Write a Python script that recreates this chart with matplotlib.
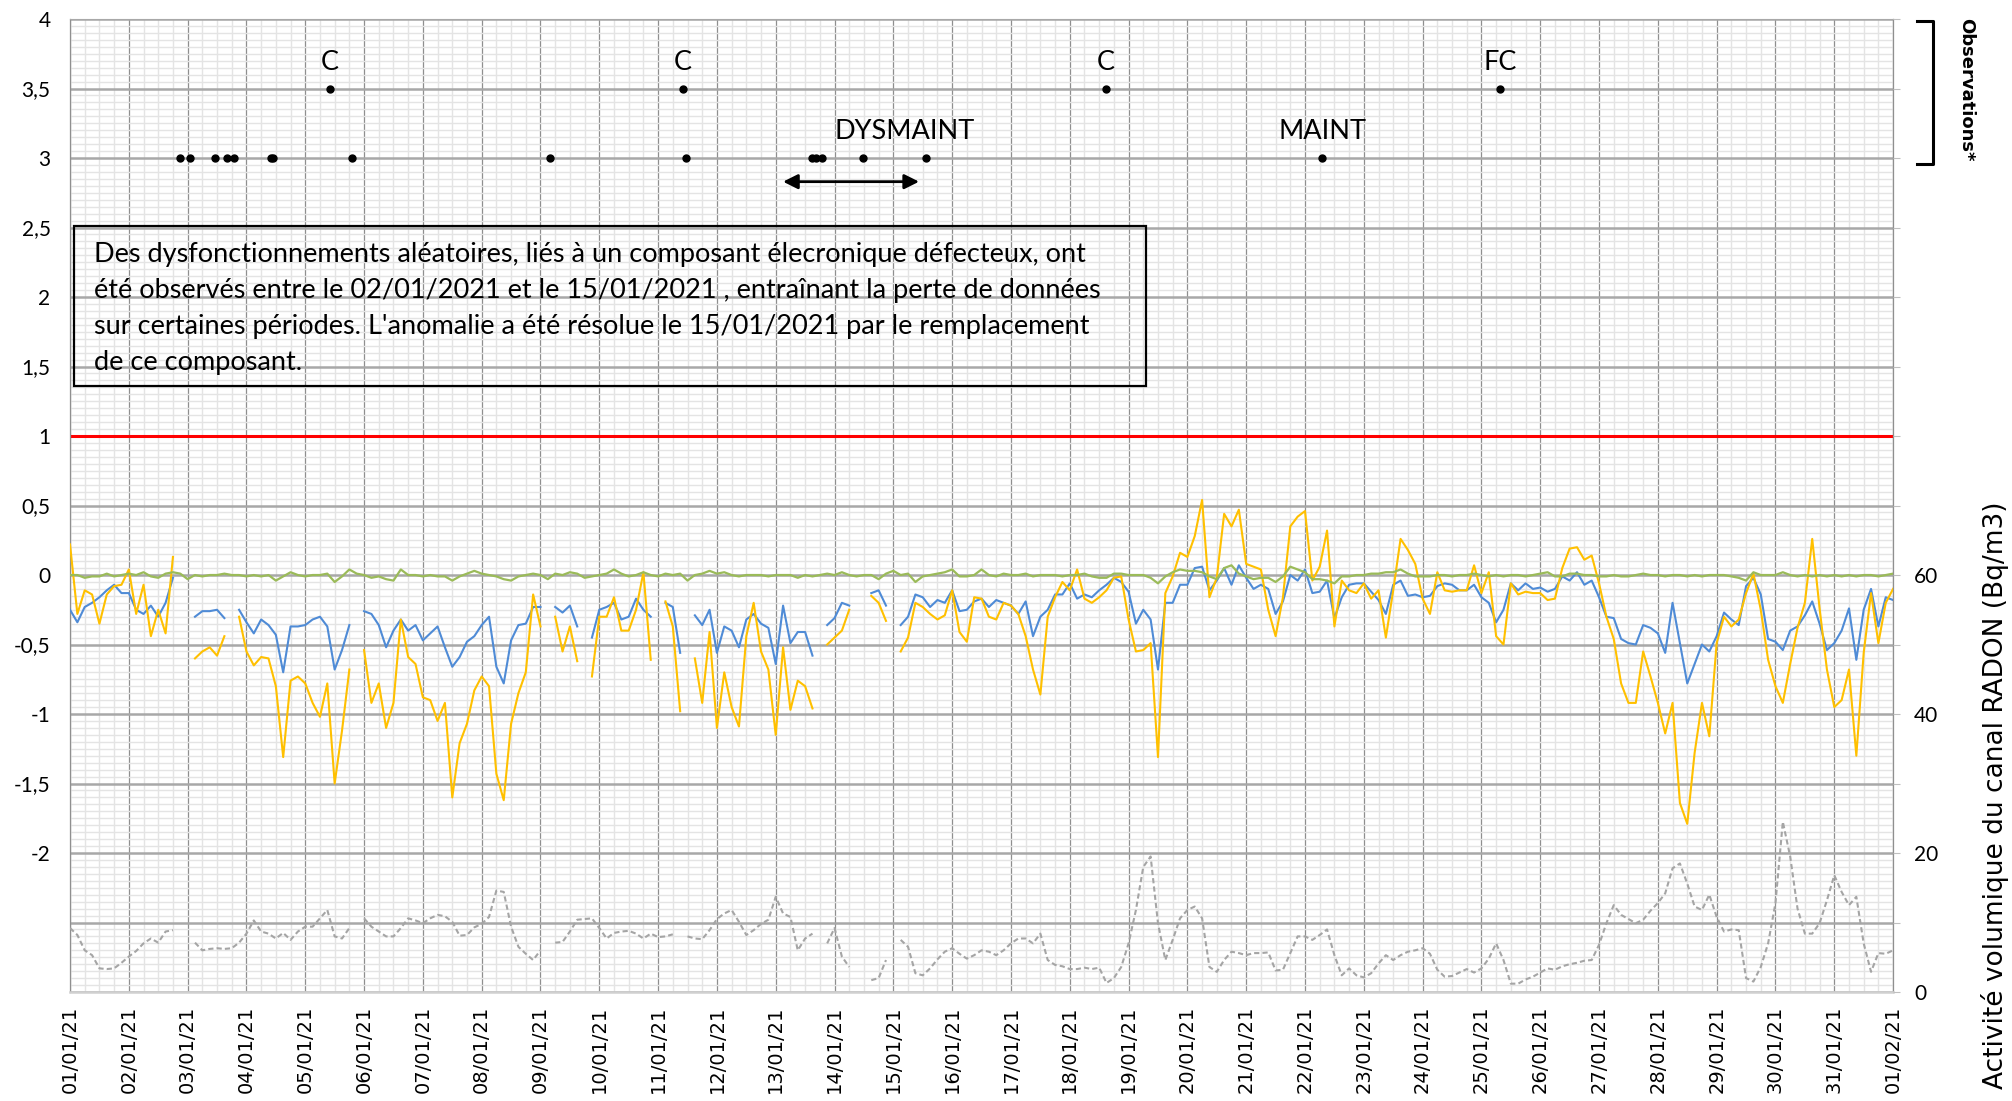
import numpy as np
import pandas as pd
import matplotlib
matplotlib.use('Agg')
import matplotlib.pyplot as plt
import matplotlib.dates as mdates
from matplotlib.ticker import MultipleLocator, FuncFormatter
from matplotlib import font_manager
from matplotlib.patches import Rectangle
from matplotlib.lines import Line2D

nan = np.nan

# 3-hourly samples, 01/01/2021 00:00 -> 01/02/2021 00:00
times = pd.date_range('2021-01-01', '2021-02-01', freq='3h')

blue = [
    -0.25, -0.34, -0.23, -0.20, -0.16, -0.11, -0.07, -0.13,
    -0.13, -0.25, -0.28, -0.22, -0.30, -0.20, -0.02, nan,
    nan, -0.30, -0.26, -0.26, -0.25, -0.31, nan, -0.25,
    -0.34, -0.42, -0.32, -0.36, -0.43, -0.70, -0.37, -0.37,
    -0.36, -0.32, -0.30, -0.37, -0.68, -0.54, -0.36, nan,
    -0.26, -0.28, -0.36, -0.52, -0.40, -0.32, -0.40, -0.36,
    -0.47, -0.42, -0.37, -0.52, -0.66, -0.59, -0.48, -0.44,
    -0.36, -0.30, -0.66, -0.78, -0.47, -0.36, -0.35, -0.23,
    -0.23, nan, -0.23, -0.27, -0.22, -0.37, nan, -0.45,
    -0.25, -0.23, -0.20, -0.32, -0.30, -0.17, -0.25, -0.30,
    nan, -0.20, -0.23, -0.56, nan, -0.29, -0.36, -0.25,
    -0.56, -0.37, -0.40, -0.52, -0.32, -0.28, -0.35, -0.38,
    -0.64, -0.22, -0.49, -0.41, -0.41, -0.58, nan, -0.36,
    -0.31, -0.20, -0.22, nan, nan, -0.13, -0.11, -0.22,
    nan, -0.36, -0.30, -0.14, -0.16, -0.23, -0.18, -0.20,
    -0.11, -0.26, -0.25, -0.19, -0.17, -0.23, -0.18, -0.20,
    -0.22, -0.28, -0.19, -0.44, -0.30, -0.25, -0.14, -0.14,
    -0.06, -0.17, -0.14, -0.16, -0.11, -0.07, -0.02, -0.05,
    -0.12, -0.35, -0.25, -0.32, -0.68, -0.20, -0.20, -0.07,
    -0.07, 0.05, 0.06, -0.11, -0.04, 0.05, -0.07, 0.07,
    -0.02, -0.10, -0.07, -0.10, -0.28, -0.19, 0.00, -0.04,
    0.04, -0.13, -0.12, -0.04, -0.31, -0.16, -0.07, -0.06,
    -0.06, -0.12, -0.18, -0.28, -0.07, -0.04, -0.15, -0.14,
    -0.16, -0.15, -0.08, -0.06, -0.07, -0.11, -0.11, -0.07,
    -0.16, -0.20, -0.34, -0.25, -0.06, -0.11, -0.06, -0.10,
    -0.09, -0.12, -0.10, -0.01, -0.04, 0.02, -0.07, -0.04,
    -0.16, -0.30, -0.31, -0.46, -0.49, -0.50, -0.36, -0.38,
    -0.42, -0.56, -0.20, -0.49, -0.78, -0.64, -0.50, -0.55,
    -0.44, -0.27, -0.32, -0.36, -0.08, -0.02, -0.14, -0.46,
    -0.48, -0.54, -0.40, -0.37, -0.29, -0.19, -0.35, -0.54,
    -0.49, -0.40, -0.24, -0.61, -0.25, -0.10, -0.37, -0.16,
    -0.18]

yellow = [
    0.22, -0.28, -0.11, -0.14, -0.35, -0.14, -0.08, -0.07,
    0.04, -0.28, -0.07, -0.44, -0.25, -0.42, 0.13, nan,
    nan, -0.60, -0.55, -0.52, -0.58, -0.44, nan, -0.30,
    -0.55, -0.65, -0.59, -0.60, -0.80, -1.31, -0.76, -0.73,
    -0.78, -0.92, -1.02, -0.78, -1.50, -1.12, -0.68, nan,
    -0.54, -0.92, -0.78, -1.10, -0.92, -0.32, -0.59, -0.64,
    -0.88, -0.90, -1.05, -0.92, -1.60, -1.21, -1.07, -0.83,
    -0.73, -0.80, -1.43, -1.62, -1.07, -0.85, -0.70, -0.14,
    -0.37, nan, -0.30, -0.55, -0.37, -0.62, nan, -0.73,
    -0.30, -0.30, -0.16, -0.40, -0.40, -0.25, 0.02, -0.61,
    nan, -0.19, -0.37, -0.98, nan, -0.60, -0.92, -0.41,
    -1.10, -0.70, -0.95, -1.09, -0.44, -0.20, -0.55, -0.68,
    -1.15, -0.52, -0.97, -0.76, -0.80, -0.96, nan, -0.50,
    -0.45, -0.40, -0.25, nan, nan, -0.15, -0.20, -0.33,
    nan, -0.55, -0.45, -0.20, -0.23, -0.28, -0.32, -0.29,
    -0.11, -0.41, -0.48, -0.16, -0.17, -0.30, -0.32, -0.20,
    -0.22, -0.28, -0.44, -0.68, -0.86, -0.30, -0.16, -0.05,
    -0.11, 0.04, -0.17, -0.20, -0.16, -0.11, -0.02, -0.01,
    -0.32, -0.55, -0.54, -0.49, -1.31, -0.13, -0.01, 0.16,
    0.13, 0.28, 0.54, -0.16, -0.02, 0.44, 0.35, 0.47,
    0.08, 0.06, 0.04, -0.25, -0.44, -0.16, 0.35, 0.42,
    0.46, -0.04, 0.06, 0.32, -0.37, -0.04, -0.11, -0.13,
    -0.06, -0.17, -0.11, -0.45, -0.11, 0.26, 0.18, 0.08,
    -0.17, -0.28, 0.02, -0.11, -0.12, -0.11, -0.11, 0.07,
    -0.13, 0.02, -0.44, -0.50, -0.06, -0.14, -0.12, -0.13,
    -0.13, -0.18, -0.17, 0.05, 0.19, 0.20, 0.11, 0.14,
    -0.06, -0.30, -0.46, -0.78, -0.92, -0.92, -0.55, -0.73,
    -0.92, -1.14, -0.92, -1.64, -1.79, -1.28, -0.92, -1.16,
    -0.49, -0.30, -0.37, -0.32, -0.13, 0.01, -0.25, -0.61,
    -0.80, -0.92, -0.64, -0.38, -0.20, 0.26, -0.24, -0.68,
    -0.95, -0.90, -0.68, -1.30, -0.56, -0.13, -0.49, -0.20,
    -0.10]

green = [
    0.00, 0.00, -0.02, -0.01, -0.01, 0.01, -0.01, 0.00,
    0.01, 0.00, 0.02, -0.01, -0.02, 0.01, 0.02, 0.01,
    -0.03, 0.00, -0.01, 0.00, 0.00, 0.01, 0.00, 0.00,
    -0.01, 0.00, -0.01, 0.00, -0.04, -0.01, 0.02, 0.00,
    -0.01, 0.00, 0.00, 0.01, -0.05, -0.01, 0.04, 0.01,
    0.00, -0.02, -0.01, -0.03, -0.04, 0.04, 0.00, 0.00,
    -0.01, 0.00, -0.01, -0.01, -0.04, -0.01, 0.01, 0.03,
    0.01, 0.00, -0.01, -0.03, -0.04, -0.01, 0.00, 0.01,
    0.00, -0.03, 0.01, 0.00, 0.02, 0.01, -0.02, -0.01,
    0.00, 0.01, 0.04, 0.01, -0.01, 0.00, 0.02, 0.00,
    -0.01, 0.01, 0.00, 0.01, -0.04, 0.00, 0.01, 0.03,
    0.01, 0.02, 0.00, -0.01, 0.00, 0.00, 0.00, -0.01,
    0.00, 0.00, 0.00, -0.02, 0.00, -0.01, 0.00, 0.01,
    0.00, 0.02, 0.00, -0.01, 0.00, 0.00, -0.03, 0.01,
    0.03, 0.00, 0.01, -0.05, -0.01, 0.00, 0.01, 0.02,
    0.04, -0.01, -0.01, 0.00, 0.04, 0.00, -0.01, 0.01,
    0.00, 0.00, 0.01, -0.01, 0.00, 0.00, 0.00, -0.01,
    0.00, 0.00, 0.01, -0.01, -0.02, -0.02, 0.01, 0.01,
    0.00, 0.00, 0.00, -0.02, -0.06, -0.01, 0.02, 0.04,
    0.03, 0.03, 0.02, -0.01, -0.03, 0.05, 0.07, 0.01,
    -0.01, -0.03, -0.02, -0.02, -0.05, -0.01, 0.06, 0.04,
    0.02, -0.03, -0.03, -0.04, -0.06, -0.01, -0.01, 0.00,
    0.00, 0.01, 0.01, 0.02, 0.02, 0.04, 0.01, -0.01,
    -0.01, -0.01, 0.00, 0.00, -0.01, 0.00, 0.00, 0.01,
    0.00, -0.01, 0.00, -0.01, 0.00, 0.00, -0.01, 0.00,
    0.01, 0.02, -0.01, -0.01, 0.01, 0.01, 0.00, 0.00,
    -0.01, -0.01, 0.00, -0.01, -0.01, 0.00, 0.01, 0.00,
    0.00, -0.01, 0.00, 0.00, -0.01, 0.00, -0.01, 0.00,
    0.00, 0.00, -0.01, -0.02, -0.04, 0.02, 0.00, 0.00,
    0.00, 0.02, 0.00, -0.01, 0.00, -0.01, 0.00, -0.01,
    0.00, -0.01, 0.00, -0.01, 0.00, 0.00, -0.01, 0.00,
    0.01]

# activite volumique radon (Bq/m3), axe de droite
radon = [
    9.2, 8.2, 6.0, 5.3, 3.4, 3.3, 3.4, 4.2,
    5.1, 5.9, 7.0, 7.7, 7.1, 8.7, 8.9, nan,
    nan, 7.1, 6.0, 6.2, 6.3, 6.2, 6.3, 7.1,
    8.4, 10.3, 8.7, 8.4, 7.7, 8.5, 7.5, 8.7,
    9.4, 9.4, 10.6, 11.8, 8.0, 7.7, 9.2, nan,
    10.6, 9.4, 8.7, 8.0, 8.0, 9.2, 10.6, 10.3,
    9.9, 10.6, 11.1, 10.9, 10.1, 8.1, 8.2, 9.3,
    9.8, 10.8, 14.6, 14.4, 9.4, 6.5, 5.5, 4.6,
    6.0, nan, 7.1, 7.2, 8.7, 10.4, 10.5, 10.6,
    9.2, 7.7, 8.5, 8.7, 8.8, 8.4, 7.7, 8.4,
    7.9, 8.0, 8.3, nan, 8.0, 7.7, 7.6, 8.9,
    10.5, 11.3, 11.8, 10.1, 8.2, 8.9, 9.8, 10.4,
    13.7, 11.3, 10.8, 6.0, 7.7, 8.4, nan, 7.0,
    9.2, 5.1, 3.6, nan, nan, 1.7, 2.0, 4.6,
    nan, 7.5, 6.5, 2.7, 2.4, 3.4, 4.7, 5.8,
    6.3, 5.5, 4.8, 5.3, 6.0, 5.8, 5.3, 6.0,
    7.0, 7.7, 7.7, 7.0, 8.4, 4.6, 3.9, 3.7,
    3.3, 3.3, 3.5, 3.3, 3.5, 1.3, 2.0, 3.6,
    7.0, 11.8, 18.0, 19.5, 9.9, 4.6, 7.5, 10.6,
    11.8, 12.3, 10.6, 3.6, 2.9, 4.6, 5.8, 5.6,
    5.3, 5.6, 5.6, 5.7, 3.1, 3.2, 5.6, 8.0,
    8.0, 7.5, 8.2, 9.0, 5.3, 2.4, 3.4, 2.4,
    2.1, 2.7, 4.1, 5.3, 4.6, 5.3, 5.8, 6.0,
    6.3, 5.5, 3.2, 2.2, 2.3, 2.8, 3.3, 2.8,
    3.4, 4.8, 7.0, 4.6, 1.2, 1.2, 1.8, 2.2,
    2.8, 3.4, 3.2, 3.7, 4.0, 4.2, 4.5, 4.6,
    6.8, 9.9, 12.5, 11.1, 10.5, 9.9, 10.4, 11.7,
    12.8, 14.2, 17.8, 18.5, 15.6, 12.3, 11.8, 14.0,
    10.8, 8.7, 9.0, 8.9, 2.0, 1.5, 3.6, 7.0,
    12.8, 24.5, 19.5, 12.0, 8.4, 8.4, 9.9, 13.2,
    16.8, 14.4, 12.5, 13.7, 7.0, 2.9, 5.6, 5.5,
    6.0]

seuil = 1.0

# observations
obs_low_times = ['2021-01-02 21:00', '2021-01-03 01:00', '2021-01-03 11:00',
                 '2021-01-03 16:00', '2021-01-03 19:00', '2021-01-04 10:00',
                 '2021-01-04 11:00', '2021-01-05 19:00', '2021-01-09 04:00',
                 '2021-01-11 11:30', '2021-01-13 14:40', '2021-01-13 16:20',
                 '2021-01-13 19:00', '2021-01-14 11:45', '2021-01-15 13:30',
                 '2021-01-22 06:45']
obs_low_level = 3.0
obs_high_times = ['2021-01-05 10:00', '2021-01-11 10:00', '2021-01-18 14:40',
                  '2021-01-25 07:40']
obs_high_labels = ['C', 'C', 'C', 'FC']
obs_high_level = 3.5
obs_label_level = 3.69
maint_labels = ['DYSMAINT', 'MAINT']
maint_times = ['2021-01-15 04:30', '2021-01-22 07:00']
maint_level = 3.19
dys_period = ['2021-01-13 03:00', '2021-01-15 10:30']
dys_level = 2.83

box_lines = [
    "Des dysfonctionnements aléatoires, liés à un composant élecronique défecteux, ont",
    "été observés entre le 02/01/2021 et le 15/01/2021 , entraînant la perte de données",
    "sur certaines périodes. L'anomalie a été résolue le 15/01/2021 par le remplacement",
    "de ce composant.",
]

names = {f.name for f in font_manager.fontManager.ttflist}
body = 'Lato' if 'Lato' in names else 'DejaVu Sans'


def dn(lst):
    return mdates.date2num(pd.to_datetime(lst).to_pydatetime())


x = mdates.date2num(times.to_pydatetime())

fig = plt.figure(figsize=(20.12, 11.01), dpi=100)
ax = fig.add_axes([0.0348, 0.0990, 0.9061, 0.8837])

ax.axhline(seuil, color='#FF0000', lw=2.2, zorder=2)
ax.plot(x, blue, color='#4F8BD6', lw=1.5, zorder=3)
ax.plot(x, yellow, color='#FFC000', lw=1.5, zorder=4)
ax.plot(x, green, color='#9BBB59', lw=1.6, zorder=5)

ax.plot(dn(obs_low_times), [obs_low_level] * len(obs_low_times), 'o',
        color='black', ms=5, zorder=6)
ax.plot(dn(obs_high_times), [obs_high_level] * len(obs_high_times), 'o',
        color='black', ms=5, zorder=6)

annots = []
for t, lab in zip(dn(obs_high_times), obs_high_labels):
    annots.append(ax.text(t, obs_label_level, lab, ha='center', va='center',
                          fontsize=18, family=body))
for t, lab in zip(dn(maint_times), maint_labels):
    annots.append(ax.text(t, maint_level, lab, ha='center', va='center',
                          fontsize=18, family=body))

d0, d1 = dn(dys_period)
ax.annotate('', xy=(d1, dys_level), xytext=(d0, dys_level),
            arrowprops=dict(arrowstyle='<|-|>', color='black', lw=2,
                            mutation_scale=22, shrinkA=0, shrinkB=0))

ax.add_patch(Rectangle((0.0022, 0.623), 0.588, 0.164, transform=ax.transAxes,
                       fill=False, edgecolor='black', lw=1.6, zorder=6))
line_y = [0.7585, 0.7215, 0.6845, 0.6475]
txts = [ax.text(0.013, yy, s, transform=ax.transAxes, fontsize=18, family=body,
                ha='left', va='center', zorder=7)
        for s, yy in zip(box_lines, line_y)]

ax.set_xlim(mdates.date2num(pd.Timestamp('2021-01-01').to_pydatetime()),
            mdates.date2num(pd.Timestamp('2021-02-01').to_pydatetime()))
ax.set_ylim(-3, 4)
ax.xaxis.set_major_locator(mdates.DayLocator())
ax.xaxis.set_major_formatter(mdates.DateFormatter('%d/%m/%y'))
ax.xaxis.set_minor_locator(mdates.HourLocator(byhour=[6, 12, 18]))
ax.yaxis.set_major_locator(MultipleLocator(0.5))
ax.yaxis.set_minor_locator(MultipleLocator(0.05))


def left_fmt(v, pos):
    if v < -2.01:
        return ''
    return ('%g' % v).replace('.', ',')


ax.yaxis.set_major_formatter(FuncFormatter(left_fmt))
ax.tick_params(axis='x', which='both', length=0, pad=10, labelsize=14,
               labelrotation=90)
ax.tick_params(axis='y', which='both', length=0, pad=14, labelsize=15,
               labelfontfamily=body)

ax.set_axisbelow(True)
ax.grid(which='minor', axis='both', color='#E4E4E4', lw=1.0)
ax.xaxis.grid(True, which='major', color='#8F8F8F', lw=0.9)
ax.yaxis.grid(True, which='major', color='#A8A8A8', lw=1.8)
for s in ['left', 'right']:
    ax.spines[s].set_color('#8F8F8F')
    ax.spines[s].set_linewidth(0.9)
ax.spines['top'].set_color('#A8A8A8')
ax.spines['bottom'].set_color('#D0D0D0')
ax.spines['bottom'].set_linewidth(1.8)

ax2 = ax.twinx()
ax2.plot(x, radon, color='#A5A5A5', lw=1.5, dashes=(2.5, 1.5))
ax2.set_ylim(0, 140)
ax2.yaxis.set_major_locator(MultipleLocator(10))
ax2.yaxis.set_major_formatter(FuncFormatter(
    lambda v, p: '%d' % v if v in (0, 20, 40, 60) else ''))
ax2.tick_params(axis='y', length=5, color='#BFBFBF', pad=10, labelsize=15,
                labelfontfamily=body)
for s in ax2.spines.values():
    s.set_visible(False)

fig.add_artist(Line2D([0.9528, 0.9607, 0.9607, 0.9528],
                      [0.9809, 0.9809, 0.8510, 0.8510],
                      transform=fig.transFigure, color='black', lw=2.2))
fig.text(0.9771, 0.9183, 'Observations*', rotation=270, ha='center',
         va='center', fontsize=13, fontweight='bold')
fig.text(0.9915, 0.2779, 'Activité volumique du canal RADON (Bq/m3)',
         rotation=90, ha='center', va='center', fontsize=19)

# fit the box text: mean width of the three full lines ~ 997 px
fig.canvas.draw()
w = np.mean([t.get_window_extent().width for t in txts[:3]])
k = 997.0 / w
for t in txts + annots:
    t.set_fontsize(t.get_fontsize() * k)

fig.savefig('out.png', dpi=100)
